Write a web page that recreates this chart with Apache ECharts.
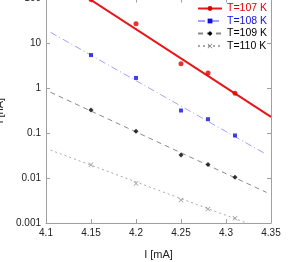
<!DOCTYPE html>
<html>
<head>
<meta charset="utf-8">
<script src="https://cdn.jsdelivr.net/npm/echarts@6/dist/echarts.min.js"></script>
<style>
html,body{margin:0;padding:0;background:#fff;}
#chart{width:295px;height:262px;}
</style>
</head>
<body>
<div id="chart"></div>
<script>
// Measured points
const currents = [4.15, 4.2, 4.25, 4.28, 4.31];
const t107 = [95, 27.5, 3.5, 2.2, 0.78];
const t108 = [5.5, 1.7, 0.32, 0.205, 0.089];
const t109 = [0.33, 0.111, 0.0325, 0.020, 0.0105];
const t110 = [0.0198, 0.0076, 0.00324, 0.00205, 0.00127];

// Fit lines (end points)
const fitX107 = [4.1, 4.35];
const fit107 = [415, 0.23];
const fitX = [4.105, 4.345];
const fit108 = [17.7, 0.0336];
const fit109 = [0.815, 0.0048];
const fit110 = [0.042, 0.000685];

const names = ['T=107 K', 'T=108 K', 'T=109 K', 'T=110 K'];
const xTicks = [4.1, 4.15, 4.2, 4.25, 4.3, 4.35];
const yTicks = [0.001, 0.01, 0.1, 1, 10, 100];

const xSym = 'path://M0,1L1,0L5,4L9,0L10,1L6,5L10,9L9,10L5,6L1,10L0,9L4,5Z';

function pairs(xs, ys) { return xs.map((x, i) => [x, ys[i]]); }

const font = 'Liberation Sans, Arial, sans-serif';
const axisCol = '#a0a0a0';

const chart = echarts.init(document.getElementById('chart'), null, {renderer: 'canvas'});

const fits = [
  {name: names[0], data: pairs(fitX107, fit107), lc: '#e8161b', lw: 2, lt: 'solid', sym: 'circle', pc: '#e00000'},
  {name: names[1], data: pairs(fitX, fit108), lc: '#a0a0f8', lw: 1, lt: [7, 3, 1, 3], sym: 'rect', pc: '#1010e0'},
  {name: names[2], data: pairs(fitX, fit109), lc: '#8a8a8a', lw: 1, lt: [5, 4], sym: 'diamond', pc: '#000000'},
  {name: names[3], data: pairs(fitX, fit110), lc: '#aaaaaa', lw: 1, lt: [2, 3], sym: xSym, pc: '#808080'}
];
const pts = [
  {name: names[0], data: pairs(currents, t107), sym: 'circle', size: 5, pc: '#e00000'},
  {name: names[1], data: pairs(currents, t108), sym: 'rect', size: 4, pc: '#1010e0'},
  {name: names[2], data: pairs(currents, t109), sym: 'diamond', size: 5, pc: '#000000'},
  {name: names[3], data: pairs(currents, t110), sym: xSym, size: 5, pc: '#808080'}
];

const series = [];
fits.forEach(f => {
  series.push({
    type: 'line', name: f.name, data: f.data, symbol: f.sym, showSymbol: false,
    symbolSize: 5, clip: true, silent: true, animation: false,
    lineStyle: {color: f.lc, width: f.lw, type: f.lt},
    itemStyle: {color: f.pc}, z: 2
  });
});
pts.forEach(p => {
  series.push({
    type: 'scatter', name: p.name, data: p.data, symbol: p.sym, symbolSize: p.size,
    itemStyle: {color: p.pc}, animation: false, z: 3
  });
});

const fmtY = v => String(parseFloat(Number(v).toPrecision(1)));
const fmtX = v => String(parseFloat(Number(v).toFixed(2)));

chart.setOption({
  animation: false,
  textStyle: {fontFamily: font},
  grid: {left: 46, right: 24, top: -1.5, bottom: 39, containLabel: false, outerBoundsMode: 'none'},
  legend: {
    orient: 'vertical', right: 28, top: 3, padding: 0,
    itemWidth: 24, itemHeight: 6, itemGap: 1.5,
    textStyle: {fontSize: 10.5, fontFamily: font},
    data: [
      {name: names[0], textStyle: {color: '#e00000'}},
      {name: names[1], textStyle: {color: '#1010e0'}},
      {name: names[2], textStyle: {color: '#000000'}},
      {name: names[3], textStyle: {color: '#000000'}}
    ]
  },
  xAxis: [{
    type: 'value', min: 4.1, max: 4.35, interval: 0.05,
    name: 'I [mA]', nameLocation: 'middle', nameGap: 26,
    nameTextStyle: {fontSize: 11, color: '#222', fontFamily: font},
    axisLine: {show: true, lineStyle: {color: axisCol}},
    axisTick: {show: true, inside: true, length: 4, lineStyle: {color: axisCol}},
    axisLabel: {fontSize: 10, color: '#222', margin: 5, formatter: fmtX},
    splitLine: {show: false}
  }, {
    type: 'value', position: 'top', min: 4.1, max: 4.35, interval: 0.05,
    axisLine: {show: true, lineStyle: {color: axisCol}},
    axisTick: {show: true, inside: true, length: 4, lineStyle: {color: axisCol}},
    axisLabel: {show: false}, splitLine: {show: false}
  }],
  yAxis: [{
    type: 'log', logBase: 10, min: 0.001, max: 100, splitNumber: 5,
    name: 'I [nA]', nameLocation: 'middle', nameGap: 38,
    nameTextStyle: {fontSize: 11, color: '#222', fontFamily: font},
    axisLine: {show: true, lineStyle: {color: axisCol}},
    axisTick: {show: true, inside: true, length: 4, lineStyle: {color: axisCol}},
    axisLabel: {fontSize: 10, color: '#222', margin: 5, formatter: fmtY},
    splitLine: {show: false}, minorTick: {show: false}
  }, {
    type: 'log', logBase: 10, min: 0.001, max: 100, splitNumber: 5, position: 'right',
    axisLine: {show: true, lineStyle: {color: axisCol}},
    axisTick: {show: true, inside: true, length: 4, lineStyle: {color: axisCol}},
    axisLabel: {show: false}, splitLine: {show: false}
  }],
  series: series
});
</script>
</body>
</html>
